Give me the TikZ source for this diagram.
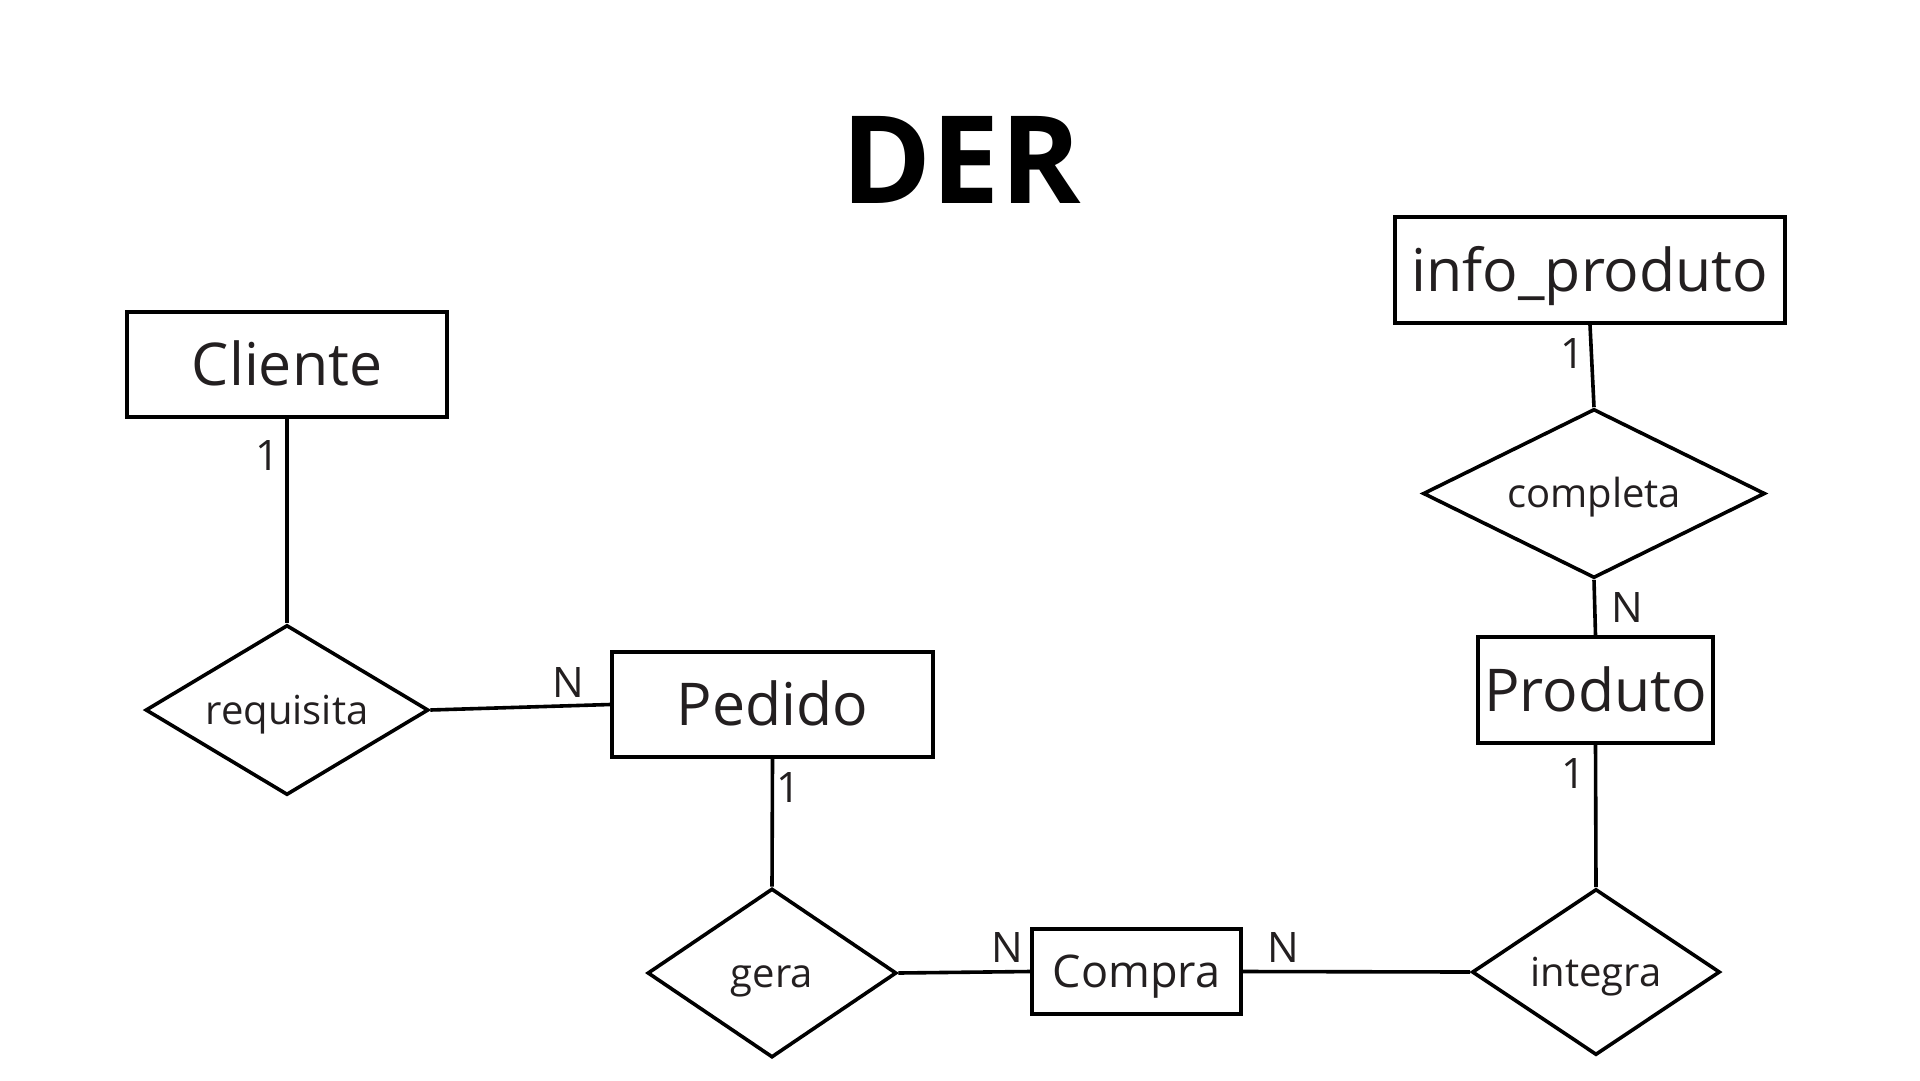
\documentclass[tikz,border=0pt]{standalone}
\usepackage{fontspec}
\setmainfont{Open Sans}
\usetikzlibrary{shapes.geometric}
\definecolor{txt}{RGB}{35,31,32}
\begin{document}
\begin{tikzpicture}[x=1pt,y=-1pt,
 ent/.style={draw=black, line width=3.6pt, rectangle, inner sep=0pt, text=txt,
   font=\fontsize{59}{70}\selectfont, text height=42pt, text depth=0pt},
 rel/.style={draw=black, line width=3.6pt, diamond, inner sep=0pt, text=txt,
   font=\fontsize{40}{48}\selectfont, text height=28.6pt, text depth=0pt},
 card/.style={text=txt, inner sep=0pt, font=\fontsize{42}{50}\selectfont,
   text height=30pt, text depth=0pt},
 link/.style={draw=black, line width=3.6pt}]
\useasboundingbox (0,0) rectangle (1920,1080);
\fill[white] (0,0) rectangle (1920,1080);

\node[inner sep=0pt, text=black, font=\fontsize{122}{140}\selectfont\bfseries,
  text height=87pt, text depth=0pt] (title) at (961,160) {DER};

% entities
\node[ent, minimum width=320pt, minimum height=105pt] (cliente) at (287,364.5) {Cliente};
\node[ent, minimum width=321pt, minimum height=105pt] (pedido) at (772.5,704.5) {Pedido};
\node[ent, minimum width=390pt, minimum height=106pt] (info) at (1590,270) {info\_produto};
\node[ent, minimum width=235pt, minimum height=106pt] (produto) at (1595.5,690) {Produto};
\node[ent, minimum width=209pt, minimum height=85pt, font=\fontsize{45}{54}\selectfont,
  text height=32pt] (compra) at (1136.5,971.5) {Compra};

% relationships
\node[rel, shape aspect=1.665, minimum width=283pt, minimum height=170pt] (requisita) at (287,710) {requisita};
\node[rel, shape aspect=1.473, minimum width=249pt, minimum height=169pt] (gera) at (772,973) {gera};
\node[rel, shape aspect=1.494, minimum width=248pt, minimum height=166pt] (integra) at (1596,972) {integra};
\node[rel, shape aspect=2.02, minimum width=342pt, minimum height=169pt] (completa) at (1594,493.5) {completa};

% connectors
\draw[link] (cliente.south) -- (requisita.north);
\draw[link] (requisita.east) -- (pedido.west);
\draw[link] (pedido.south) -- (gera.north);
\draw[link] (gera.east) -- (compra.west);
\draw[link] (compra.east) -- (integra.west);
\draw[link] (produto.south) -- (integra.north);
\draw[link] (info.south) -- (completa.north);
\draw[link] (completa.south) -- (produto.north);

% cardinalities
\node[card] (c1) at (268,455) {1};
\node[card] (c2) at (568,682) {N};
\node[card] (c3) at (788,787) {1};
\node[card] (c4) at (1007,947) {N};
\node[card] (c5) at (1283,947) {N};
\node[card] (c6) at (1572,353) {1};
\node[card] (c7) at (1627,607) {N};
\node[card] (c8) at (1573,773) {1};
\end{tikzpicture}
\end{document}
